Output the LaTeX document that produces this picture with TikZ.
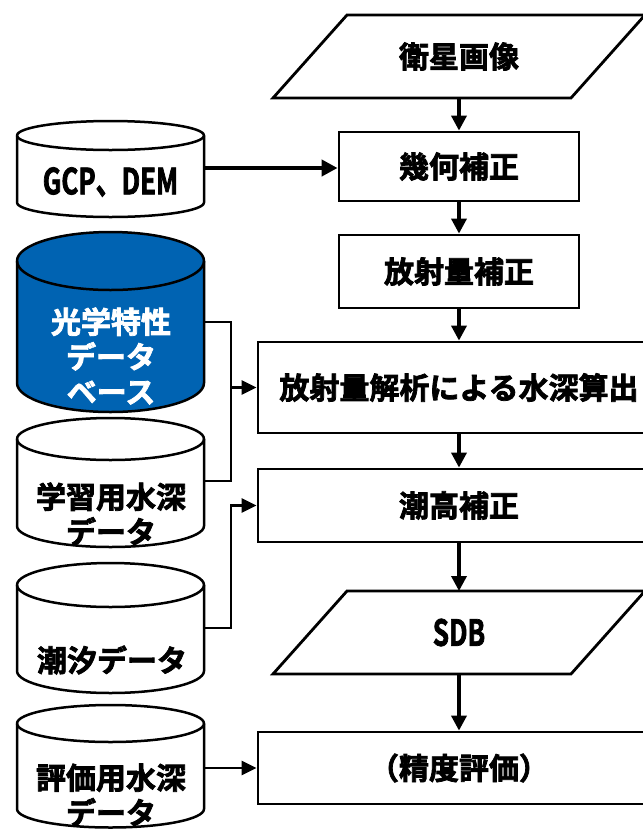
\documentclass[tikz,border=0pt]{standalone}
\usepackage{fontspec}
\usetikzlibrary{arrows.meta}
\newfontfamily\jpb{Noto Sans CJK JP Bold}[FakeBold=2.5]
\newfontfamily\jpc{Noto Sans CJK JP Bold}[FakeStretch=0.72,FakeBold=2]
\definecolor{dbblue}{RGB}{0,99,178}
\newcommand{\dbcyl}[5]{%
  \filldraw[cylline, fill=#5] (#1-93.5,#2) -- (#1-93.5,#3)
    arc[start angle=180,end angle=0,x radius=93.5,y radius=#4]
    -- (#1+93.5,#2)
    arc[start angle=0,end angle=-180,x radius=93.5,y radius=#4] -- cycle;
  \draw[cylline] (#1-93.5,#2) arc[start angle=180,end angle=0,x radius=93.5,y radius=#4];
}
\tikzset{
  box/.style={draw, line width=2.8pt, fill=white, inner sep=0pt,
    font=\jpb\fontsize{30}{35}\selectfont},
  lbl/.style={inner sep=0pt, align=center, font=\jpb\fontsize{30}{35}\selectfont},
  latin/.style={inner sep=0pt, align=center, font=\jpc\fontsize{36}{40}\selectfont},
  cylline/.style={line width=2.5pt, line join=round},
  pgram/.style={draw, line width=2.8pt, line join=miter, fill=white},
  flow/.style={line width=3.5pt, -{Triangle[length=15pt,width=15pt]}},
  feed/.style={line width=2.5pt, -{Triangle[length=15pt,width=14pt]}},
  gcpflow/.style={line width=4pt, -{Triangle[length=16pt,width=16pt]}},
  link/.style={line width=2.5pt},
}
\begin{document}
\begin{tikzpicture}[x=1pt,y=-1pt]
\useasboundingbox (0,0) rectangle (643,831);
\fill[white] (0,0) rectangle (643,831);

% parallelograms
\draw[pgram] (347,15) -- (645,15) -- (571,98) -- (273,98) -- cycle;
\node[lbl] (sat) at (459,56.5) {衛星画像};
\coordinate (satS) at (459,98);

\draw[pgram] (347,591) -- (645,591) -- (571,674) -- (273,674) -- cycle;
\node[latin] (sdb) at (459,632.5) {SDB};
\coordinate (sdbN) at (459,591);
\coordinate (sdbS) at (459,674);

% boxes
\node[box, minimum width=240pt, minimum height=69pt] (geo) at (459,166.5) {幾何補正};
\node[box, minimum width=240pt, minimum height=73pt] (rad) at (459,271.5) {放射量補正};
\node[box, minimum width=402pt, minimum height=91pt] (ana) at (459,387.5) {放射量解析による水深算出};
\node[box, minimum width=402pt, minimum height=73pt] (tcor) at (459,505.5) {潮高補正};
\node[box, minimum width=402pt, minimum height=72pt] (acc) at (459,768) {（精度評価）};

% flow arrows
\draw[flow] (satS) -- (geo.north);
\draw[flow] (geo.south) -- (rad.north);
\draw[flow] (rad.south) -- (ana.north);
\draw[flow] (ana.south) -- (tcor.north);
\draw[flow] (tcor.south) -- (sdbN);
\draw[flow] (sdbS) -- (acc.north);

% cylinders
\dbcyl{110.5}{135.5}{202.5}{14.5}{white}
\node[latin] (gcp) at (110.5,182) {GCP、DEM};
\coordinate (gcpR) at (204,168);

\dbcyl{110.5}{261}{383}{29}{dbblue}
\node[lbl, text=white] (opt) at (111,356) {光学特性\\データ\\ベース};
\coordinate (optR) at (204,322);

\dbcyl{110.5}{439}{526}{21}{white}
\node[lbl] (learn) at (111,514) {学習用水深\\データ};
\coordinate (learnR) at (204,481);

\dbcyl{110.5}{585}{671}{22}{white}
\node[lbl] (tide) at (112,660) {潮汐データ};
\coordinate (tideR) at (204,628);

\dbcyl{110.5}{723.5}{809}{18.5}{white}
\node[lbl] (eval) at (111,795) {評価用水深\\データ};
\coordinate (evalR) at (204,768);

% connectors
\draw[gcpflow] (gcpR) -- (gcpR -| geo.west);
\draw[link] (optR) -| (231,481) -- (learnR);
\coordinate (bus1) at (231,387.5);
\draw[feed] (bus1) -- (ana.west);
\draw[feed] (tideR) -- (231,628) |- (tcor.west);
\draw[feed] (evalR) -- (acc.west);
\end{tikzpicture}
\end{document}
